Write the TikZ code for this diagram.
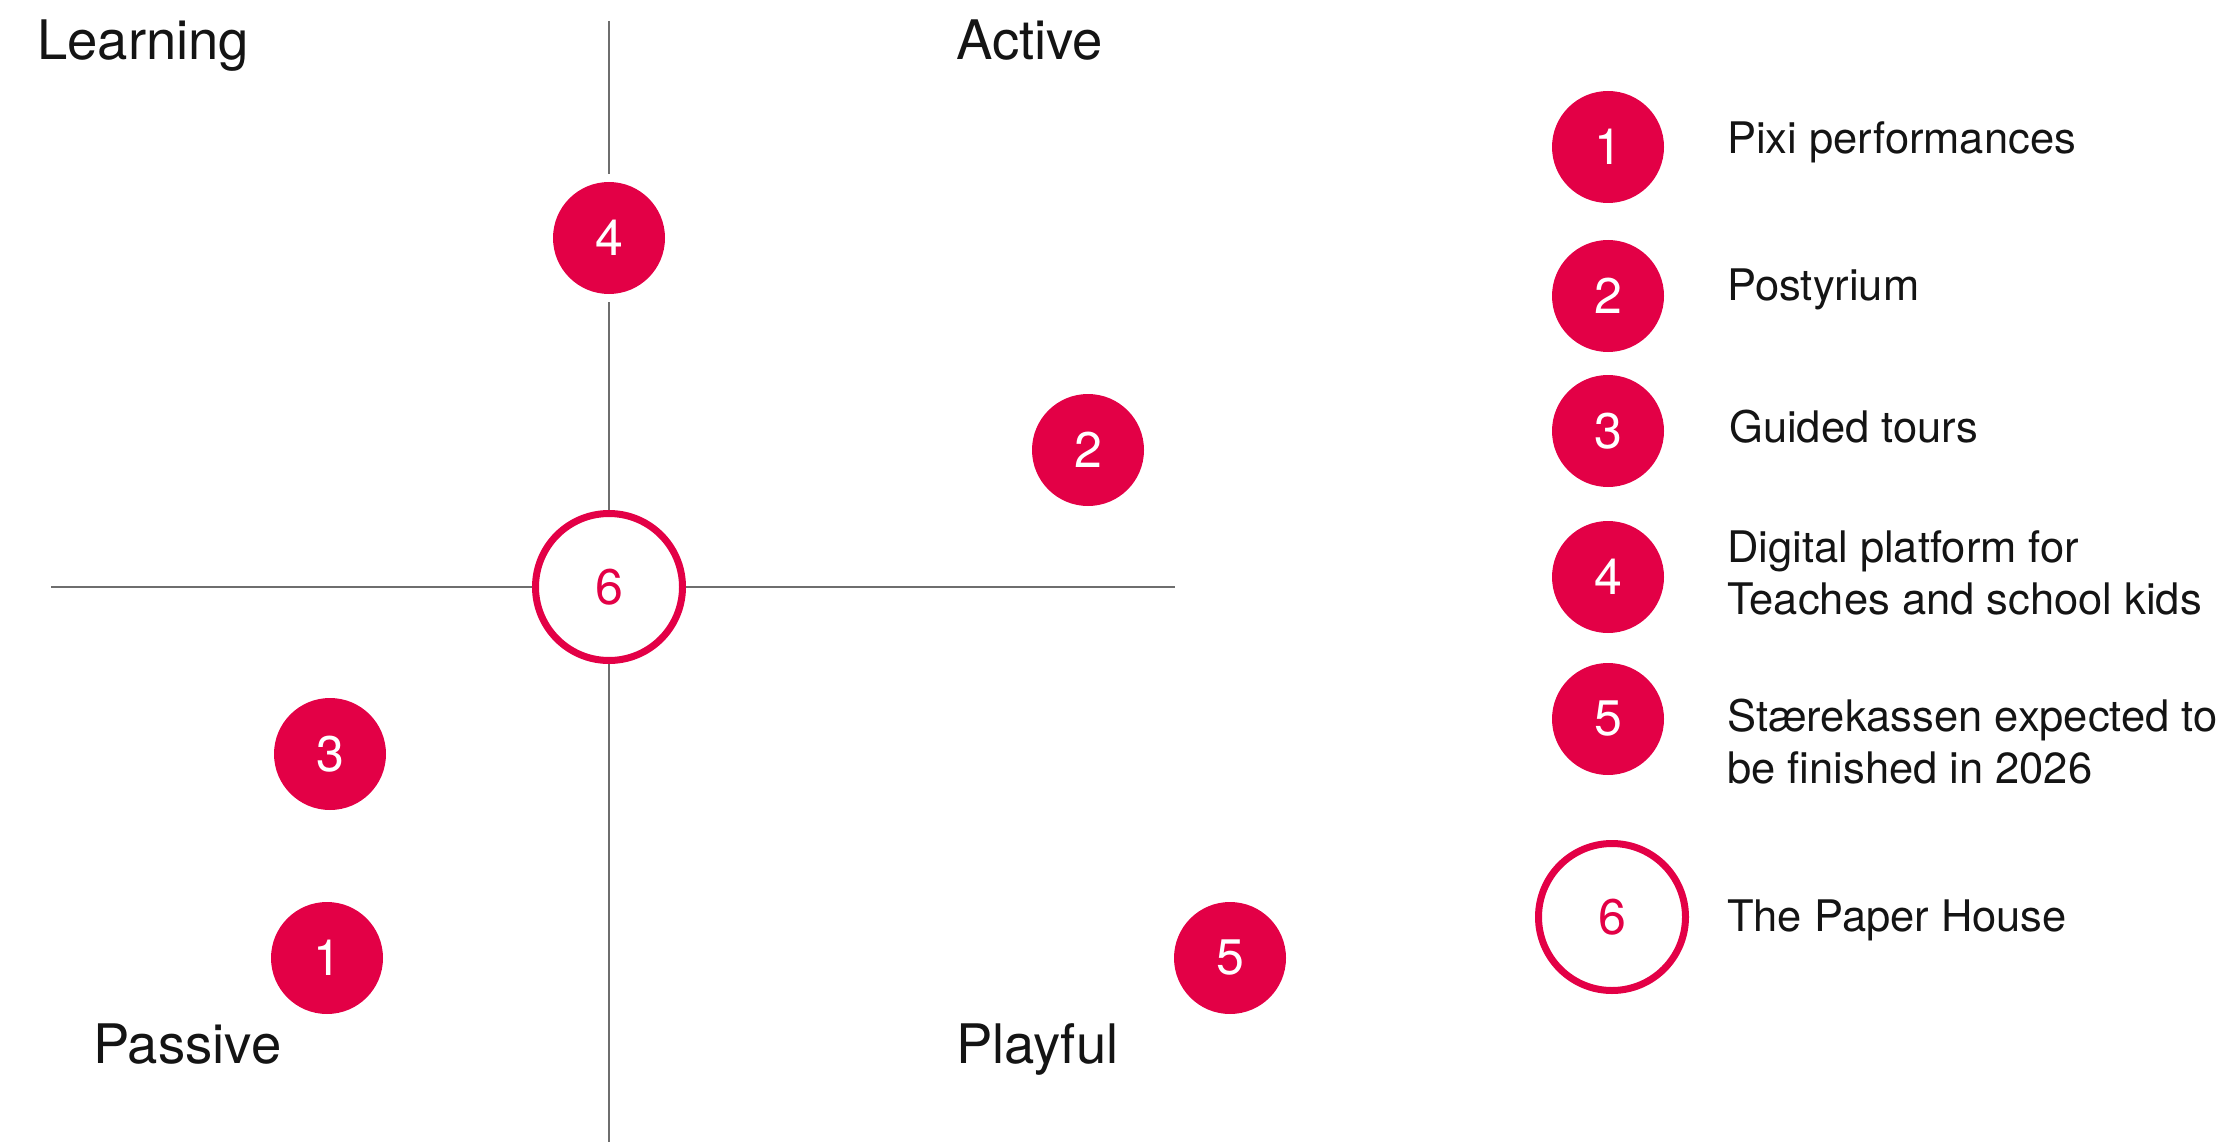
\documentclass[tikz,border=0pt]{standalone}
\usepackage{fontspec}
\setmainfont{TeX Gyre Heros}
\definecolor{brand}{RGB}{227,0,70}
\definecolor{axisgray}{RGB}{110,110,110}
\definecolor{ink}{RGB}{20,20,20}
\begin{document}
\begin{tikzpicture}[x=1pt,y=-1pt,
  dot/.style={circle,fill=brand,draw=none,minimum size=112pt,inner sep=0pt,text=white,font=\fontsize{50}{50}\selectfont},
  gapdot/.style={dot,outer sep=8pt},
  ring/.style={circle,draw=brand,line width=7pt,fill=white,minimum size=147pt,inner sep=0pt,text=brand,font=\fontsize{50}{50}\selectfont},
  quad/.style={anchor=base west,inner sep=0pt,text=ink,font=\fontsize{54.5}{54.5}\selectfont},
  legend/.style={anchor=base west,inner sep=0pt,align=left,text=ink,font=\fontsize{43.5}{52}\selectfont},
  axisline/.style={draw=axisgray,line width=2pt}]
\useasboundingbox (0,0) rectangle (2238,1142);

% axis end points
\coordinate (vtop) at (609,21);
\coordinate (vbot) at (609,1142);
\coordinate (hleft) at (51,587);
\coordinate (hright) at (1175,587);

% chart circles
\node[gapdot] (c4) at (609,238) {4};
\node[ring] (c6) at (609,587) {6};
\node[dot] (c2) at (1088,450) {2};
\node[dot] (c3) at (330,754) {3};
\node[dot] (c1) at (327,958) {1};
\node[dot] (c5) at (1230,958) {5};

% axes
\draw[axisline] (vtop) -- (c4);
\draw[axisline] (c4) -- (c6);
\draw[axisline] (c6) -- (vbot);
\draw[axisline] (hleft) -- (c6);
\draw[axisline] (c6) -- (hright);

% quadrant labels
\node[quad] (learning) at (37,60) {Learning};
\node[quad] (active) at (956,60) {Active};
\node[quad] (passive) at (93,1063) {Passive};
\node[quad] (playful) at (956,1063) {Playful};

% legend
\node[dot] (l1) at (1608,147) {1};
\node[dot] (l2) at (1608,296) {2};
\node[dot] (l3) at (1608,431) {3};
\node[dot] (l4) at (1608,577) {4};
\node[dot] (l5) at (1608,719) {5};
\node[ring] (l6) at (1612,917) {6};

\node[legend] (t1) at (1727,154) {Pixi performances};
\node[legend] (t2) at (1727,300) {Postyrium};
\node[legend] (t3) at (1729,442) {Guided tours};
\node[legend] (t4) at (1727,614) {Digital platform for\\Teaches and school kids};
\node[legend] (t5) at (1727,783) {Stærekassen expected to\\be finished in 2026};
\node[legend] (t6) at (1727,931) {The Paper House};
\end{tikzpicture}
\end{document}
